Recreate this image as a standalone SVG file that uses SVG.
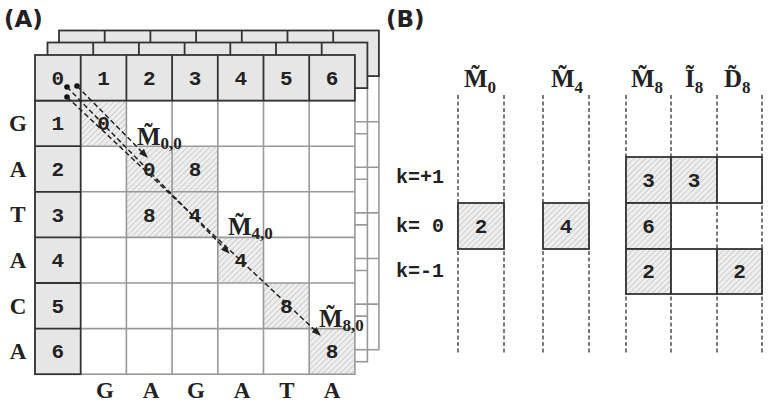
<svg xmlns="http://www.w3.org/2000/svg" xmlns:xlink="http://www.w3.org/1999/xlink" width="768" height="406" viewBox="0 0 768 406">
<style>
.mono{font-family:"Liberation Mono","Courier New",monospace;font-weight:bold;font-size:21px;fill:#222;text-anchor:middle}
.kl{font-family:"Liberation Mono","Courier New",monospace;font-weight:bold;font-size:20px;fill:#222}
.ser{font-family:"Liberation Serif","Times New Roman",serif;font-weight:bold;font-size:23px;fill:#222;text-anchor:middle}
.lab{font-family:"Liberation Serif","Times New Roman",serif;font-weight:bold;font-size:25px;fill:#222}
.sub{font-size:17px}
.title{font-family:"DejaVu Sans",sans-serif;font-weight:bold;font-size:23px;fill:#222}
.hdr{fill:#e6e6e6;stroke:#333;stroke-width:1.8}
.dk{stroke:#333;stroke-width:1.8;fill:none}
.gl{stroke:#999;stroke-width:1.6;fill:none}
.hat{fill:url(#hatch)}
.box{stroke:#333;stroke-width:1.8}
.vd{stroke:#333;stroke-width:1.3;stroke-dasharray:4,2.5}
.arr{stroke:#222;stroke-width:1.5;stroke-dasharray:5,3;fill:none;marker-end:url(#ah)}
</style>
<defs>
<pattern id="hatch" patternUnits="userSpaceOnUse" width="4" height="4" patternTransform="rotate(45)">
<rect width="4" height="4" fill="#eeeeee"/>
<line x1="0" y1="0" x2="0" y2="4" stroke="#b8b8b8" stroke-width="1.2"/>
</pattern>
<marker id="ah" markerWidth="9" markerHeight="7" refX="8" refY="3.5" orient="auto" markerUnits="userSpaceOnUse">
<path d="M0,0 L9,3.5 L0,7 z" fill="#222"/>
</marker>
<g id="backlayer">
<rect x="35" y="100.6" width="319.9" height="273.6" fill="#fff" class="gl"/>
<path class="gl" d="M35,146.2H354.9M35,191.8H354.9M35,237.4H354.9M35,283H354.9M35,328.6H354.9"/>
<rect x="35" y="55" width="319.9" height="45.6" class="hdr"/>
<path class="dk" d="M80.7,55V100.6M126.4,55V100.6M172.1,55V100.6M217.8,55V100.6M263.5,55V100.6M309.2,55V100.6"/>
</g>
</defs>
<rect width="768" height="406" fill="#fff"/>

<text class="title" x="4" y="27">(A)</text>
<text class="title" x="386" y="27">(B)</text>

<g id="layer3"><use xlink:href="#backlayer" transform="translate(24,-24.5)"/></g>
<g id="layer2"><use xlink:href="#backlayer" transform="translate(12.5,-12.5)"/></g>

<g id="matrix">
<rect x="35" y="100.6" width="319.9" height="273.6" fill="#fff"/>
<rect class="hat" x="80.7" y="100.6" width="45.7" height="45.6"/>
<rect class="hat" x="126.4" y="146.2" width="45.7" height="45.6"/>
<rect class="hat" x="172.1" y="146.2" width="45.7" height="45.6"/>
<rect class="hat" x="126.4" y="191.8" width="45.7" height="45.6"/>
<rect class="hat" x="172.1" y="191.8" width="45.7" height="45.6"/>
<rect class="hat" x="217.8" y="237.4" width="45.7" height="45.6"/>
<rect class="hat" x="263.5" y="283" width="45.7" height="45.6"/>
<rect class="hat" x="309.2" y="328.6" width="45.7" height="45.6"/>
<rect class="gl" x="35" y="100.6" width="319.9" height="273.6"/>
<path class="gl" d="M126.4,100.6V374.2M172.1,100.6V374.2M217.8,100.6V374.2M263.5,100.6V374.2M309.2,100.6V374.2M80.7,146.2H354.9M80.7,191.8H354.9M80.7,237.4H354.9M80.7,283H354.9M80.7,328.6H354.9"/>
<rect x="35" y="100.6" width="45.7" height="273.6" class="hdr"/>
<path class="dk" d="M35,146.2H80.7M35,191.8H80.7M35,237.4H80.7M35,283H80.7M35,328.6H80.7"/>
<rect x="35" y="55" width="319.9" height="45.6" class="hdr"/>
<path class="dk" d="M80.7,55V100.6M126.4,55V100.6M172.1,55V100.6M217.8,55V100.6M263.5,55V100.6M309.2,55V100.6"/>
<text class="mono" x="57.9" y="84.8">0</text>
<text class="mono" x="103.6" y="84.8">1</text>
<text class="mono" x="149.3" y="84.8">2</text>
<text class="mono" x="195" y="84.8">3</text>
<text class="mono" x="240.7" y="84.8">4</text>
<text class="mono" x="286.4" y="84.8">5</text>
<text class="mono" x="332.1" y="84.8">6</text>
<text class="mono" x="57.9" y="130.4">1</text>
<text class="mono" x="57.9" y="176">2</text>
<text class="mono" x="57.9" y="221.6">3</text>
<text class="mono" x="57.9" y="267.2">4</text>
<text class="mono" x="57.9" y="312.8">5</text>
<text class="mono" x="57.9" y="358.4">6</text>
<text class="mono" x="103.6" y="130.4">0</text>
<text class="mono" x="149.3" y="176">0</text>
<text class="mono" x="195" y="176">8</text>
<text class="mono" x="149.3" y="221.6">8</text>
<text class="mono" x="195" y="221.6">4</text>
<text class="mono" x="240.7" y="267.2">4</text>
<text class="mono" x="286.4" y="312.8">8</text>
<text class="mono" x="332.1" y="358.4">8</text>
</g>

<g id="row-letters">
<text class="ser" x="18" y="131">G</text>
<text class="ser" x="18" y="177">A</text>
<text class="ser" x="18" y="222">T</text>
<text class="ser" x="18" y="268">A</text>
<text class="ser" x="18" y="314">C</text>
<text class="ser" x="18" y="359">A</text>
</g>
<g id="col-letters">
<text class="ser" x="105" y="398">G</text>
<text class="ser" x="151" y="398">A</text>
<text class="ser" x="196" y="398">G</text>
<text class="ser" x="242" y="398">A</text>
<text class="ser" x="287" y="398">T</text>
<text class="ser" x="332" y="398">A</text>
</g>

<g id="connectors">
<circle cx="67" cy="87" r="2.8" fill="#111"/>
<circle cx="77" cy="86" r="2.8" fill="#111"/>
<circle cx="67" cy="97" r="2.8" fill="#111"/>
<path class="arr" d="M77,86L147,157"/>
<path class="arr" d="M67,87L229,253"/>
<path class="arr" d="M67,97L320,335"/>
</g>

<g id="label-m00"><text class="lab" x="137" y="145">M&#x303;<tspan class="sub" dy="4">0,0</tspan></text></g>
<g id="label-m40"><text class="lab" x="228" y="235">M&#x303;<tspan class="sub" dy="4">4,0</tspan></text></g>
<g id="label-m80"><text class="lab" x="319" y="327">M&#x303;<tspan class="sub" dy="4">8,0</tspan></text></g>

<g id="panelB-lines">
<path class="vd" d="M458,95V353M504,95V353M543,95V353M589,95V353M626,95V353M671,95V353M717,95V353M762,95V353"/>
</g>
<g id="hdr-M0"><text class="lab" x="464" y="87">M&#x303;<tspan class="sub" dy="6">0</tspan></text></g>
<g id="hdr-M4"><text class="lab" x="551" y="87">M&#x303;<tspan class="sub" dy="6">4</tspan></text></g>
<g id="hdr-M8"><text class="lab" x="631" y="87">M&#x303;<tspan class="sub" dy="6">8</tspan></text></g>
<g id="hdr-I8"><text class="lab" x="685" y="87">&#x128;<tspan class="sub" dy="6">8</tspan></text></g>
<g id="hdr-D8"><text class="lab" x="724" y="87">D&#x303;<tspan class="sub" dy="6">8</tspan></text></g>

<g id="k-labels">
<text class="kl" x="396" y="183">k=+1</text>
<text class="kl" x="396" y="232">k= 0</text>
<text class="kl" x="396" y="277">k=-1</text>
</g>

<g id="box-M0"><rect class="hat box" x="458" y="203" width="46" height="46"/><text class="mono" x="481" y="233">2</text></g>
<g id="box-M4"><rect class="hat box" x="543" y="203" width="46" height="46"/><text class="mono" x="566" y="233">4</text></g>
<g id="box-M8">
<rect class="hat box" x="626" y="157" width="45" height="46"/><text class="mono" x="648.5" y="187">3</text>
<rect class="hat box" x="671" y="157" width="46" height="46"/><text class="mono" x="694" y="187">3</text>
<rect class="box" fill="#fff" x="717" y="157" width="45" height="46"/>
<rect class="hat box" x="626" y="203" width="45" height="46"/><text class="mono" x="648.5" y="233">6</text>
<rect class="hat box" x="626" y="249" width="45" height="45"/><text class="mono" x="648.5" y="278">2</text>
<rect class="box" fill="#fff" x="671" y="249" width="46" height="45"/>
<rect class="hat box" x="717" y="249" width="45" height="45"/><text class="mono" x="739.5" y="278">2</text>
</g>
</svg>
